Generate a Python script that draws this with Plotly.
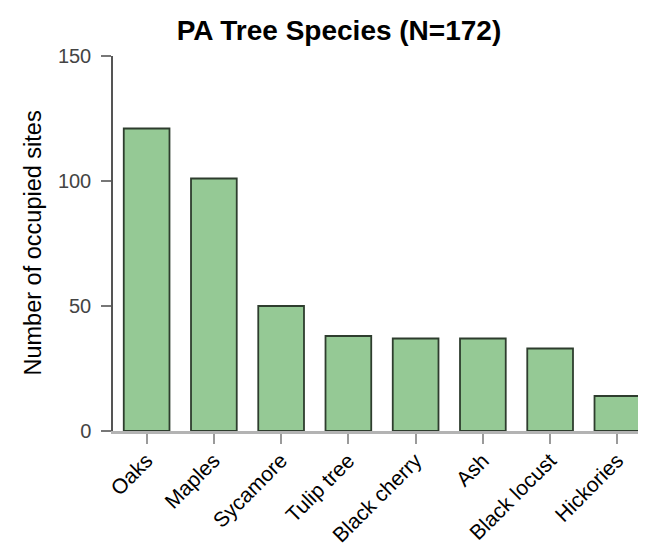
import plotly.graph_objects as go

categories = ["Oaks", "Maples", "Sycamore", "Tulip tree", "Black cherry", "Ash", "Black locust", "Hickories"]
sites = [121, 101, 50, 38, 37, 37, 33, 14]
y_ticks = [0, 50, 100, 150]

FONT = "Liberation Sans, Arial, sans-serif"

fig = go.Figure(
    go.Bar(
        x=categories,
        y=sites,
        marker=dict(color="#95c995", line=dict(color="#2e3d2e", width=1.8)),
        width=0.68,
    )
)

fig.update_layout(
    width=646,
    height=546,
    margin=dict(l=105, r=3, t=48, b=123, autoexpand=False),
    paper_bgcolor="white",
    plot_bgcolor="white",
    showlegend=False,
    font=dict(family=FONT, color="black"),
    title=dict(
        text="<b>PA Tree Species (N=172)</b>",
        font=dict(family=FONT, size=28, color="black"),
        x=331 / 646,
        xanchor="center",
        xref="container",
        y=1 - 22 / 546,
        yanchor="middle",
        yref="container",
    ),
    annotations=[
        dict(
            text="Number of occupied sites",
            textangle=-90,
            xref="paper",
            yref="paper",
            x=(24 - 105) / 538,
            y=0.5,
            xanchor="center",
            yanchor="middle",
            showarrow=False,
            font=dict(family=FONT, size=23.5, color="black"),
        )
    ],
)

fig.update_xaxes(
    automargin=False,
    range=[-0.5, 7.5],
    showline=True,
    linecolor="#b3b3b3",
    linewidth=3,
    ticks="outside",
    ticklen=10,
    tickwidth=2,
    tickcolor="#9a9a9a",
    tickangle=-45,
    ticklabelstandoff=-4,
    tickfont=dict(family=FONT, size=21, color="black"),
    showgrid=False,
    zeroline=False,
)

fig.update_yaxes(
    automargin=False,
    range=[0, 150],
    tickvals=y_ticks,
    showline=True,
    linecolor="#555555",
    linewidth=1.5,
    ticks="outside",
    ticklen=10,
    tickwidth=1.5,
    tickcolor="#777777",
    ticklabelstandoff=6,
    tickfont=dict(family=FONT, size=20, color="#444444"),
    showgrid=False,
    zeroline=False,
)

fig.write_html("out.html")
